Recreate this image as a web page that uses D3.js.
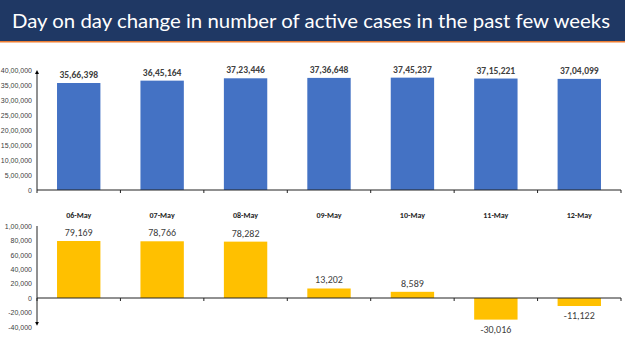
<!DOCTYPE html>
<html>
<head>
<meta charset="utf-8">
<script src="https://cdn.jsdelivr.net/npm/d3@7"></script>
<style>
  body { margin: 0; background: #fff; }
  svg { display: block; }
</style>
</head>
<body>
<div id="main"></div>
<script>
const dates = ["06-May", "07-May", "08-May", "09-May", "10-May", "11-May", "12-May"];
const activeCases = [3566398, 3645164, 3723446, 3736648, 3745237, 3715221, 3704099];
const dailyChange = [79169, 78766, 78282, 13202, 8589, -30016, -11122];
const topTicks = [0, 500000, 1000000, 1500000, 2000000, 2500000, 3000000, 3500000, 4000000];
const bottomTicks = [-40000, -20000, 0, 20000, 40000, 60000, 80000, 100000];

const width = 625, height = 351;
const textColor = "#404040";

// indian style grouping: 35,66,398
function inr(n) {
    const s = Math.abs(n).toString();
    const last3 = s.slice(-3);
    let rest = s.slice(0, -3);
    if (rest) rest = rest.replace(/\B(?=(\d{2})+(?!\d))/g, ",");
    return (n < 0 ? "-" : "") + (rest ? rest + "," + last3 : last3);
}

const svg = d3.select("#main").append("svg")
    .attr("width", width)
    .attr("height", height)
    .style("font-family", "Calibri, Carlito, Lato, 'Liberation Sans', Arial, sans-serif");

const defs = svg.append("defs");
defs.append("marker")
    .attr("id", "arrow")
    .attr("viewBox", "0 0 10 10")
    .attr("refX", 5).attr("refY", 5)
    .attr("markerWidth", 4).attr("markerHeight", 4)
    .attr("orient", "auto-start-reverse")
    .append("path")
    .attr("d", "M0,0 L10,5 L0,10 z")
    .attr("fill", "#000");

// title bar
svg.append("rect")
    .attr("x", 0).attr("y", 0)
    .attr("width", width).attr("height", 41)
    .attr("fill", "#1f3864");
svg.append("rect")
    .attr("x", 0).attr("y", 41)
    .attr("width", width).attr("height", 1.5)
    .attr("fill", "#ed7d31");
svg.append("text")
    .attr("x", 12).attr("y", 28)
    .attr("fill", "#fff")
    .style("font-family", "'Gill Sans MT', 'Gill Sans', Lato, sans-serif")
    .style("font-size", "20px")
    .attr("textLength", 598)
    .attr("lengthAdjust", "spacingAndGlyphs")
    .text("Day on day change in number of active cases in the past few weeks");

const x = d3.scaleBand()
    .domain(dates)
    .range([37, 621])
    .paddingInner(0.48)
    .paddingOuter(0.24);

const step = x.step();
const bounds = dates.map(d => x(d) - (step - x.bandwidth()) / 2);
bounds.push(bounds[bounds.length - 1] + step);

// ---------- top chart ----------
const yTop = d3.scaleLinear().domain([0, 4000000]).range([190, 70]);

const gTop = svg.append("g");

gTop.append("g")
    .attr("transform", "translate(37,0)")
    .call(d3.axisLeft(yTop).tickValues(topTicks).tickSize(0).tickPadding(5).tickFormat(inr))
    .call(g => g.select(".domain").remove())
    .call(g => g.selectAll("text").attr("fill", textColor).style("font-size", "7px"));

gTop.selectAll("rect.bar")
    .data(activeCases)
    .enter()
    .append("rect")
    .attr("class", "bar")
    .attr("x", (d, i) => x(dates[i]))
    .attr("y", d => yTop(d))
    .attr("width", x.bandwidth())
    .attr("height", d => yTop(0) - yTop(d))
    .attr("fill", "#4472c4");

gTop.selectAll("text.val")
    .data(activeCases)
    .enter()
    .append("text")
    .attr("class", "val")
    .attr("x", (d, i) => x(dates[i]) + x.bandwidth() / 2)
    .attr("y", d => yTop(d) - 5)
    .attr("text-anchor", "middle")
    .attr("fill", textColor)
    .style("font-size", "9.5px")
    .style("font-weight", "bold")
    .text(inr);

gTop.append("line")
    .attr("x1", 37).attr("x2", 621)
    .attr("y1", yTop(0)).attr("y2", yTop(0))
    .attr("stroke", "#222").attr("stroke-width", 1);
gTop.append("line")
    .attr("x1", 37).attr("x2", 37)
    .attr("y1", yTop(0)).attr("y2", yTop(4000000) + 2)
    .attr("stroke", "#222").attr("stroke-width", 1)
    .attr("marker-end", "url(#arrow)");
gTop.selectAll("line.tick")
    .data(bounds)
    .enter()
    .append("line")
    .attr("class", "tick")
    .attr("x1", d => d).attr("x2", d => d)
    .attr("y1", yTop(0)).attr("y2", yTop(0) + 3)
    .attr("stroke", "#222");

// ---------- bottom chart ----------
const yBot = d3.scaleLinear().domain([-40000, 100000]).range([326.8, 226]);

const gBot = svg.append("g");

gBot.append("g")
    .attr("transform", "translate(37,0)")
    .call(d3.axisLeft(yBot).tickValues(bottomTicks).tickSize(0).tickPadding(5).tickFormat(inr))
    .call(g => g.select(".domain").remove())
    .call(g => g.selectAll("text").attr("fill", textColor).style("font-size", "7px"));

gBot.selectAll("text.date")
    .data(dates)
    .enter()
    .append("text")
    .attr("class", "date")
    .attr("x", d => x(d) + x.bandwidth() / 2)
    .attr("y", 218)
    .attr("text-anchor", "middle")
    .attr("fill", "#262626")
    .style("font-size", "8px")
    .style("font-weight", "bold")
    .text(d => d);

gBot.selectAll("rect.bar")
    .data(dailyChange)
    .enter()
    .append("rect")
    .attr("class", "bar")
    .attr("x", (d, i) => x(dates[i]))
    .attr("y", d => yBot(Math.max(0, d)))
    .attr("width", x.bandwidth())
    .attr("height", d => Math.abs(yBot(d) - yBot(0)))
    .attr("fill", "#ffc000");

gBot.selectAll("text.val")
    .data(dailyChange)
    .enter()
    .append("text")
    .attr("class", "val")
    .attr("x", (d, i) => x(dates[i]) + x.bandwidth() / 2)
    .attr("y", d => d >= 0 ? yBot(d) - 5 : yBot(d) + 13)
    .attr("text-anchor", "middle")
    .attr("fill", textColor)
    .style("font-size", "10px")
    .text(inr);

gBot.append("line")
    .attr("x1", 37).attr("x2", 621)
    .attr("y1", yBot(0)).attr("y2", yBot(0))
    .attr("stroke", "#222").attr("stroke-width", 1);
gBot.append("line")
    .attr("x1", 37).attr("x2", 37)
    .attr("y1", yBot(100000)).attr("y2", yBot(-40000) - 3)
    .attr("stroke", "#222").attr("stroke-width", 1)
    .attr("marker-end", "url(#arrow)");
gBot.selectAll("line.tick")
    .data(bounds)
    .enter()
    .append("line")
    .attr("class", "tick")
    .attr("x1", d => d).attr("x2", d => d)
    .attr("y1", yBot(0)).attr("y2", yBot(0) + 3)
    .attr("stroke", "#222");
</script>
</body>
</html>
